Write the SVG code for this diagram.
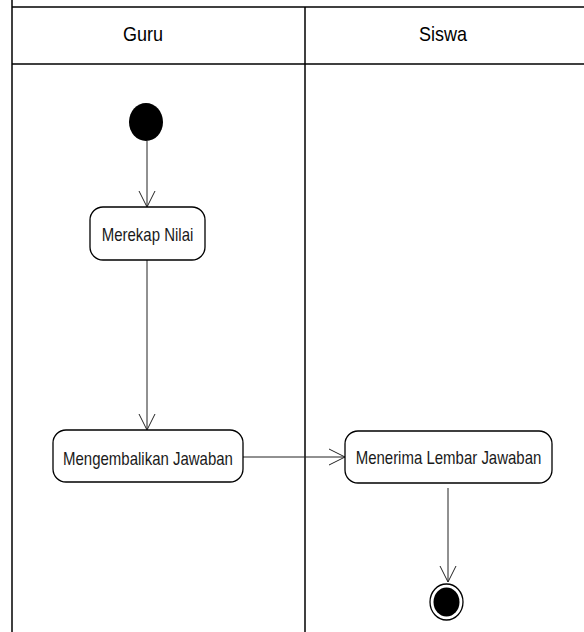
<svg xmlns="http://www.w3.org/2000/svg" width="584" height="632" viewBox="0 0 584 632">
  <style>
    .lane { fill: none; stroke: #000; stroke-width: 1.5; }
    .act { fill: #fff; stroke: #000; stroke-width: 1.3; }
    .lbl { font-family: "Liberation Sans", Arial, sans-serif; font-size: 15px; fill: #1a1a1a; text-anchor: middle; }
    .hdr { font-family: "Liberation Sans", Arial, sans-serif; font-size: 18px; fill: #000; text-anchor: middle; }
    .flow { fill: none; stroke: #222; stroke-width: 1; }
  </style>
  <defs>
    <marker id="open" viewBox="0 0 16 18" refX="16" refY="9" markerWidth="16" markerHeight="18" markerUnits="userSpaceOnUse" orient="auto">
      <path d="M0,1 L16,9 L0,17" fill="none" stroke="#222" stroke-width="1"/>
    </marker>
  </defs>

  <!-- swimlane frame -->
  <g id="lanes">
    <line class="lane" x1="12" y1="0" x2="12" y2="632"/>
    <line class="lane" x1="12" y1="7" x2="584" y2="7"/>
    <line class="lane" x1="12" y1="64" x2="584" y2="64"/>
    <line class="lane" x1="305" y1="7" x2="305" y2="632"/>
    <text class="hdr" transform="translate(143,41) scale(1,1.08)">Guru</text>
    <text class="hdr" transform="translate(443,41) scale(1,1.08)">Siswa</text>
  </g>

  <!-- connectors -->
  <g id="connectors">
    <line class="flow" x1="147" y1="141" x2="147" y2="207" marker-end="url(#open)"/>
    <line class="flow" x1="147" y1="260" x2="147" y2="430" marker-end="url(#open)"/>
    <line class="flow" x1="243" y1="457" x2="345" y2="457" marker-end="url(#open)"/>
    <line class="flow" x1="448" y1="488" x2="448" y2="582" marker-end="url(#open)"/>
  </g>

  <g id="start">
    <ellipse cx="146" cy="122" rx="17" ry="19" fill="#000"/>
  </g>

  <g id="merekap">
    <rect class="act" x="90" y="207" width="115" height="53" rx="13"/>
    <text class="lbl" transform="translate(147.5,240.5) scale(1,1.2)">Merekap Nilai</text>
  </g>

  <g id="mengembalikan">
    <rect class="act" x="53" y="430" width="190" height="52" rx="13"/>
    <text class="lbl" transform="translate(148,464.5) scale(1,1.2)">Mengembalikan Jawaban</text>
  </g>

  <g id="menerima">
    <rect class="act" x="345" y="431" width="207" height="52" rx="13"/>
    <text class="lbl" transform="translate(448.5,464) scale(1,1.2)">Menerima Lembar Jawaban</text>
  </g>

  <g id="end">
    <ellipse cx="446.5" cy="602" rx="16.5" ry="18" fill="#fff" stroke="#000" stroke-width="1.3"/>
    <ellipse cx="446.5" cy="602" rx="13" ry="14.5" fill="#000"/>
  </g>
</svg>
